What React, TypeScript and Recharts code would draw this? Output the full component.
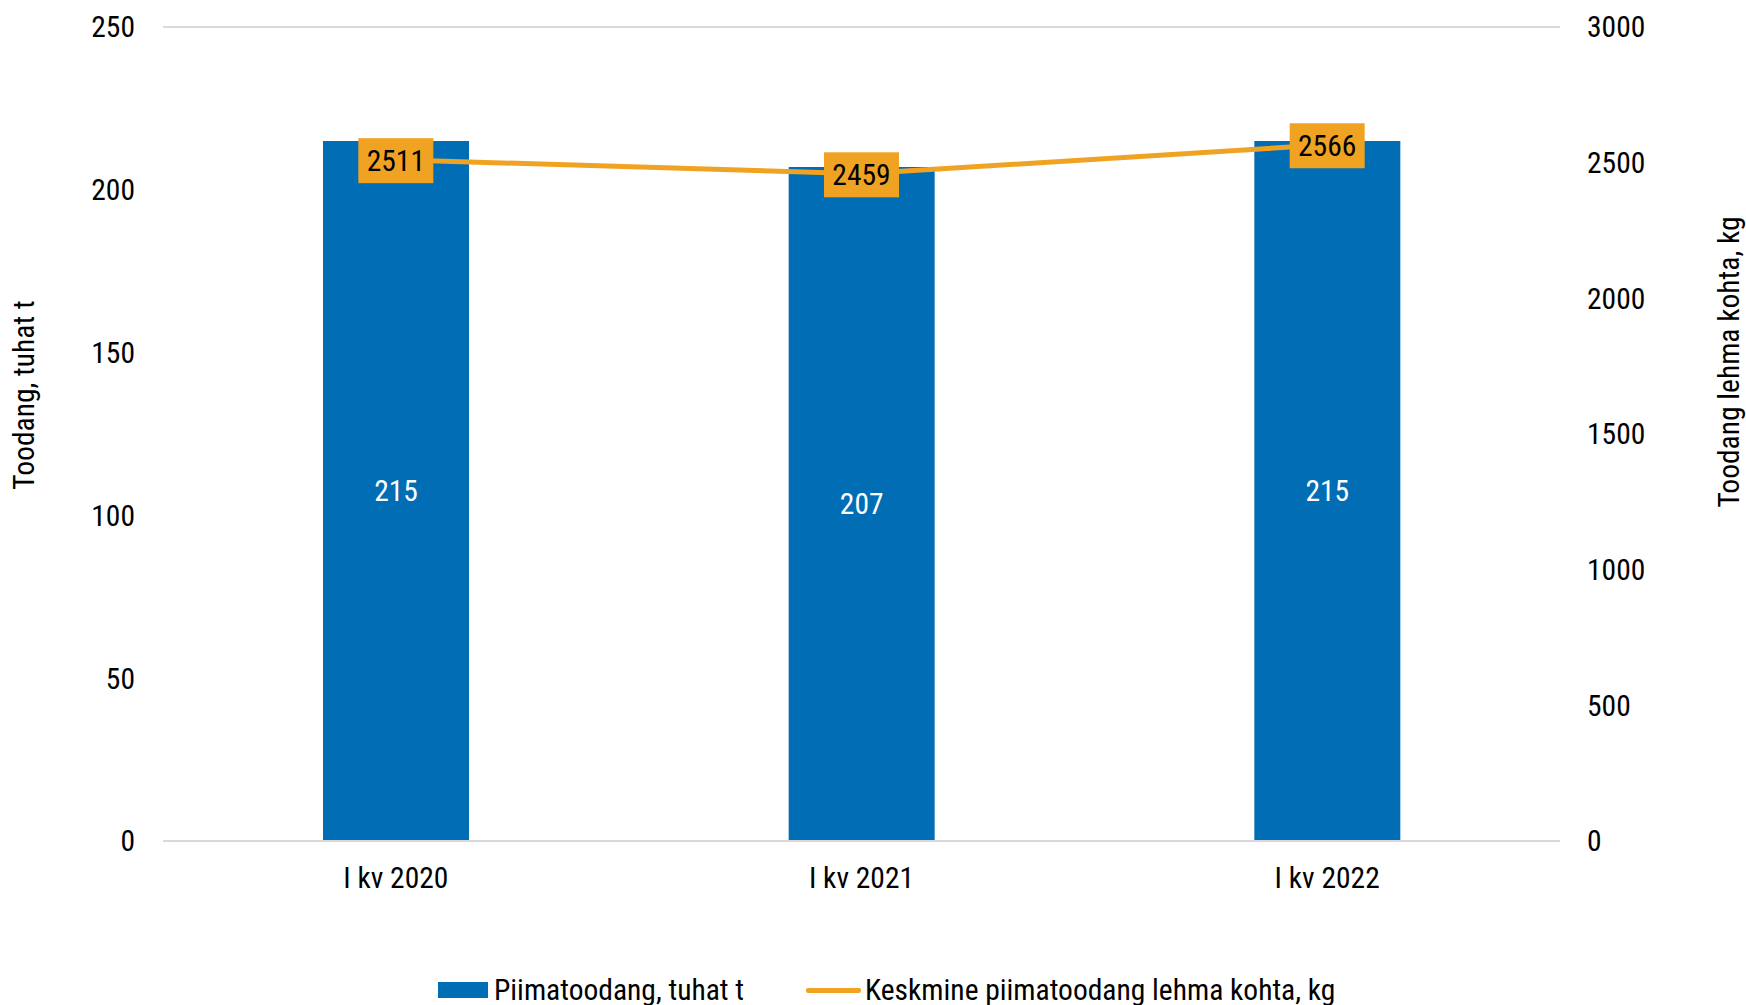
import {
  ComposedChart,
  Bar,
  Line,
  XAxis,
  YAxis,
  CartesianGrid,
  LabelList,
} from "recharts";

const categories = ["I kv 2020", "I kv 2021", "I kv 2022"];
const production = [215, 207, 215];
const perCow = [2511, 2459, 2566];
const leftTicks = [0, 50, 100, 150, 200, 250];
const rightTicks = [0, 500, 1000, 1500, 2000, 2500, 3000];

const BLUE = "#006DB4";
const ORANGE = "#F0A323";
const GRID = "#D9D9D9";
const FONT = '"Roboto Condensed", "Liberation Sans Narrow", "Arial Narrow", Roboto, sans-serif';
const FS = 29.5;

const data = categories.map((name, i) => ({
  name,
  production: production[i],
  perCow: perCow[i],
}));

const textStyle = { fontFamily: FONT, fontStretch: "condensed" as const };

function BoxLabel(props: any) {
  const { x, y, value } = props;
  return (
    <g>
      <rect x={x - 37.5} y={y - 21.5} width={75} height={45} fill={ORANGE} />
      <text
        x={x}
        y={y + 1}
        textAnchor="middle"
        dominantBaseline="central"
        fontSize={FS}
        fill="#000"
        style={textStyle}
      >
        {value}
      </text>
    </g>
  );
}

export default function App() {
  return (
    <div style={{ position: "absolute", left: 0, top: 0, width: 1746, height: 1005, background: "#fff", ...textStyle }}>
      <ComposedChart
        width={1746}
        height={1005}
        data={data}
        margin={{ top: 27, right: 106, bottom: 104, left: 83 }}
        barSize={146}
      >
        <CartesianGrid horizontal vertical={false} stroke={GRID} strokeWidth={2} />
        <XAxis
          dataKey="name"
          axisLine={{ stroke: GRID, strokeWidth: 2 }}
          tickLine={false}
          tickSize={0}
          tickMargin={26}
          height={60}
          tick={{ fontSize: FS, fill: "#000", style: textStyle }}
        />
        <YAxis
          yAxisId="left"
          domain={[0, 250]}
          ticks={leftTicks}
          axisLine={false}
          tickLine={false}
          tickSize={0}
          tickMargin={28}
          width={80}
          tick={{ fontSize: FS, fill: "#000", style: textStyle }}
          label={() => (
            <text
              x={24}
              y={395}
              transform="rotate(-90 24 395)"
              textAnchor="middle"
              dominantBaseline="central"
              fontSize={FS}
              fill="#000"
              style={textStyle}
            >
              Toodang, tuhat t
            </text>
          )}
        />
        <YAxis
          yAxisId="right"
          orientation="right"
          domain={[0, 3000]}
          ticks={rightTicks}
          axisLine={false}
          tickLine={false}
          tickSize={0}
          tickMargin={27}
          width={80}
          tick={{ fontSize: FS, fill: "#000", textAnchor: "start", style: textStyle }}
          label={() => (
            <text
              x={1729}
              y={362}
              transform="rotate(-90 1729 362)"
              textAnchor="middle"
              dominantBaseline="central"
              fontSize={FS}
              fill="#000"
              style={textStyle}
            >
              Toodang lehma kohta, kg
            </text>
          )}
        />
        <Bar yAxisId="left" dataKey="production" fill={BLUE} isAnimationActive={false}>
          <LabelList
            dataKey="production"
            position="center"
            fill="#fff"
            fontSize={FS}
            style={textStyle}
          />
        </Bar>
        <Line
          yAxisId="right"
          dataKey="perCow"
          stroke={ORANGE}
          strokeWidth={5}
          dot={false}
          activeDot={false}
          isAnimationActive={false}
        >
          <LabelList dataKey="perCow" content={BoxLabel} />
        </Line>
      </ComposedChart>
      <div
        style={{
          position: "absolute",
          left: 438,
          top: 970,
          display: "flex",
          alignItems: "center",
          fontSize: FS,
          lineHeight: "40px",
          color: "#000",
        }}
      >
        <span style={{ display: "inline-block", width: 50, height: 16, background: BLUE, marginRight: 6 }} />
        <span>Piimatoodang, tuhat t</span>
        <span style={{ display: "inline-block", width: 55, height: 5, background: ORANGE, marginLeft: 62, marginRight: 4, borderRadius: 2 }} />
        <span>Keskmine piimatoodang lehma kohta, kg</span>
      </div>
    </div>
  );
}
